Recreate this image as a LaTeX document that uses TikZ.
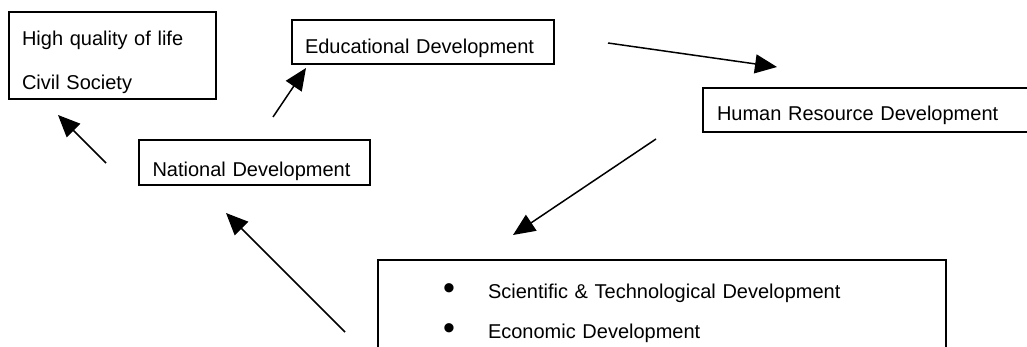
\documentclass[tikz,border=0pt]{standalone}
\usepackage{graphicx}
\usepackage{fontspec}
\setmainfont{Liberation Sans}
\usetikzlibrary{arrows.meta,positioning}

\newcommand{\bigdot}{\makebox[45pt][l]{\raisebox{-1pt}{\scalebox{1.7}{\textbullet}}}}

\begin{document}
\begin{tikzpicture}[x=1pt, y=-1pt,
    box/.style={draw, line width=1.8pt, anchor=north west, align=left, outer sep=0pt,
        inner ysep=0pt, inner xsep=13pt, font=\fontsize{20}{24}\selectfont},
    flow/.style={line width=1.5pt, -{Triangle[length=22pt, width=19pt]}}
    ]
    \useasboundingbox (0,0) rectangle (1027,347);

    % the five boxes of the cycle
    \node[box, text width=181pt, text height=34pt, text depth=53pt,
        font=\fontsize{20}{44}\selectfont] (life) at (9,12) {High quality of life\\Civil Society};
    \node[box, text width=236pt, text height=34pt, text depth=10pt] (edu) at (292,20) {Educational Development};
    \node[box, inner xsep=13.5pt, text width=204pt, text height=37pt, text depth=8pt] (nat) at (139,140) {National Development};
    \node[box, inner xsep=14pt, text width=312pt, text height=32.5pt, text depth=11.5pt] (hrd) at (703,88) {Human Resource Development};
    \node[box, inner xsep=65pt, text width=438pt, text height=38pt, text depth=60pt,
        font=\fontsize{20}{40}\selectfont] (sci) at (378,260)
        {\bigdot Scientific \& Technological Development\\
         \bigdot Economic Development};

    % arrow ends: t = tail, h = head
    \coordinate (t1) at (106,163); \coordinate (h1) at (58,115);
    \coordinate (t2) at (273,117); \coordinate (h2) at (306,68);
    \coordinate (t3) at (608,43);  \coordinate (h3) at (777,67);
    \coordinate (t4) at (656,139); \coordinate (h4) at (513,235);
    \coordinate (t5) at (345,332); \coordinate (h5) at (226,213);

    \foreach \i in {1,...,5} {
        \path[every edge/.style={draw, flow}] (t\i) edge (h\i);
    }
\end{tikzpicture}
\end{document}
